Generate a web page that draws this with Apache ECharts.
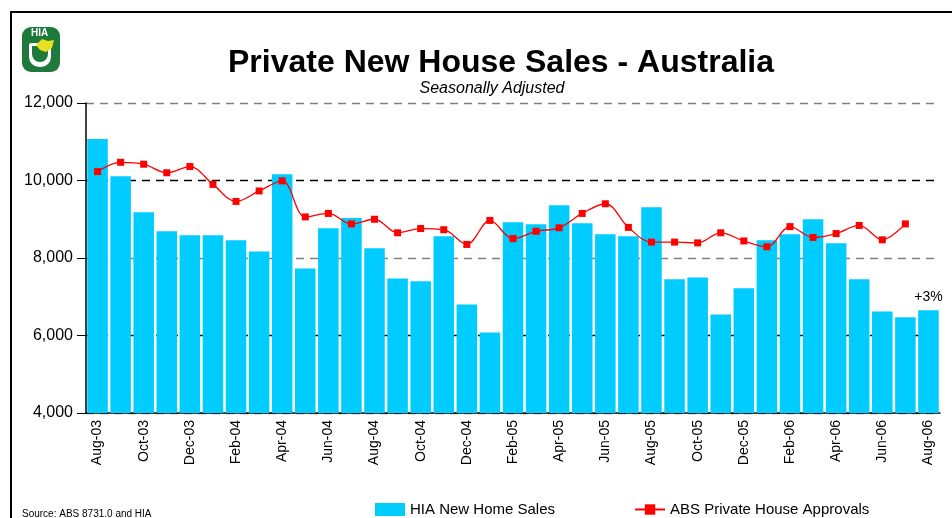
<!DOCTYPE html>
<html>
<head>
<meta charset="utf-8">
<script src="https://cdn.jsdelivr.net/npm/echarts@6/dist/echarts.min.js"></script>
<style>
  html, body { margin: 0; padding: 0; background: #fff; }
  #chart { width: 952px; height: 518px; }
</style>
</head>
<body>
<div id="chart"></div>
<script>
const months = [
  'Aug-03', 'Sep-03', 'Oct-03', 'Nov-03', 'Dec-03', 'Jan-04', 'Feb-04', 'Mar-04', 'Apr-04', 'May-04',
  'Jun-04', 'Jul-04', 'Aug-04', 'Sep-04', 'Oct-04', 'Nov-04', 'Dec-04', 'Jan-05', 'Feb-05', 'Mar-05',
  'Apr-05', 'May-05', 'Jun-05', 'Jul-05', 'Aug-05', 'Sep-05', 'Oct-05', 'Nov-05', 'Dec-05', 'Jan-06',
  'Feb-06', 'Mar-06', 'Apr-06', 'May-06', 'Jun-06', 'Jul-06', 'Aug-06'
];
// HIA new home sales (bars)
const sales = [
  11070, 10110, 9180, 8690, 8590, 8590, 8460, 8170, 10160, 7730,
  8770, 9030, 8250, 7470, 7400, 8560, 6800, 6080, 8920, 8870,
  9360, 8900, 8610, 8560, 9310, 7450, 7500, 6540, 7220, 8460,
  8610, 9000, 8380, 7450, 6620, 6470, 6650
];
// ABS private house approvals (line), no value yet for Aug-06
const approvals = [
  10230, 10470, 10420, 10200, 10360, 9900, 9460, 9730, 9990, 9060,
  9150, 8880, 9000, 8650, 8760, 8730, 8350, 8970, 8500, 8690,
  8780, 9150, 9400, 8790, 8410, 8410, 8390, 8650, 8440, 8290,
  8810, 8530, 8630, 8840, 8470, 8880, null
];
const yTicks = [4000, 6000, 8000, 10000, 12000];
const lastNote = '+3%';

const FONT = 'Arial, "Liberation Sans", sans-serif';

const chart = echarts.init(document.getElementById('chart'));

const barData = sales.map((v, i) => {
  if (i === sales.length - 1) {
    return {
      value: v,
      label: { show: true, position: 'top', distance: 6, formatter: lastNote, color: '#000', fontSize: 14, fontFamily: FONT }
    };
  }
  return v;
});

const option = {
  backgroundColor: '#fff',
  animation: false,
  title: [
    {
      text: 'Private New House Sales - Australia',
      left: 496, top: 42, textAlign: 'center',
      textStyle: { fontFamily: FONT, fontWeight: 'bold', fontSize: 32, color: '#000' }
    },
    {
      text: 'Seasonally Adjusted',
      left: 487, top: 76, textAlign: 'center',
      textStyle: { fontFamily: FONT, fontStyle: 'italic', fontWeight: 'normal', fontSize: 16, color: '#000' }
    }
  ],
  legend: {
    left: 375, top: 502, padding: 0,
    itemWidth: 30, itemHeight: 13, itemGap: 79,
    textStyle: { fontFamily: FONT, fontSize: 15, color: '#000' },
    data: [
      { name: 'HIA New Home Sales', icon: 'rect' },
      { name: 'ABS Private House Approvals' }
    ]
  },
  grid: { left: 86, right: 12, top: 103, bottom: 105 },
  xAxis: {
    type: 'category',
    data: months,
    boundaryGap: true,
    axisLine: { lineStyle: { color: '#000', width: 1.5 } },
    axisTick: { interval: 1, length: 6, lineStyle: { color: '#000' } },
    axisLabel: { interval: 1, rotate: 90, margin: 7, fontSize: 14, fontFamily: FONT, color: '#000' },
    splitLine: { show: false }
  },
  yAxis: {
    type: 'value',
    min: yTicks[0], max: yTicks[yTicks.length - 1], interval: 2000,
    axisLine: { show: true, lineStyle: { color: '#000', width: 1.5 } },
    axisTick: { show: true, length: 9, lineStyle: { color: '#000' } },
    axisLabel: {
      margin: 13, fontSize: 16, fontFamily: FONT, color: '#000',
      formatter: v => v.toLocaleString('en-US')
    },
    splitLine: { show: true, lineStyle: { color: ['#808080', '#000'], type: [8, 6], width: 1.3 } }
  },
  series: [
    {
      name: 'HIA New Home Sales',
      type: 'bar',
      data: barData,
      barCategoryGap: '11%',
      itemStyle: { color: '#00CCFF' },
      z: 2
    },
    {
      name: 'ABS Private House Approvals',
      type: 'line',
      data: approvals,
      smooth: 0.35,
      symbol: 'rect',
      symbolSize: 7,
      lineStyle: { color: '#FF0000', width: 1.3 },
      itemStyle: { color: '#FF0000' },
      z: 3
    }
  ],
  graphic: [
    // outer frame (top and left edges visible)
    { type: 'polyline', shape: { points: [[11, 518], [11, 12], [952, 12]] }, style: { stroke: '#000', lineWidth: 2, fill: null } },
    // HIA logo
    { type: 'rect', shape: { x: 22, y: 27, width: 38, height: 45, r: 9 }, style: { fill: '#1d7a3a' } },
    { type: 'rect', shape: { x: 29, y: 43, width: 22, height: 24, r: [2, 2, 10, 10] }, style: { fill: '#fff' } },
    { type: 'rect', shape: { x: 32, y: 46, width: 16, height: 16, r: [0, 0, 8, 8] }, style: { fill: '#1d7a3a' } },
    { type: 'polygon', shape: { points: [[36, 45], [42, 39], [48, 41], [54, 40], [52, 48], [46, 52], [40, 50]] }, style: { fill: '#e8e020' } },
    { type: 'text', left: 31, top: 28, style: { text: 'HIA', fill: '#fff', fontSize: 10, fontWeight: 'bold', fontFamily: FONT } },
    // source note
    { type: 'text', left: 22, top: 509, style: { text: 'Source: ABS 8731.0 and HIA', fill: '#000', fontSize: 10, fontFamily: FONT } }
  ]
};

chart.setOption(option);
</script>
</body>
</html>
